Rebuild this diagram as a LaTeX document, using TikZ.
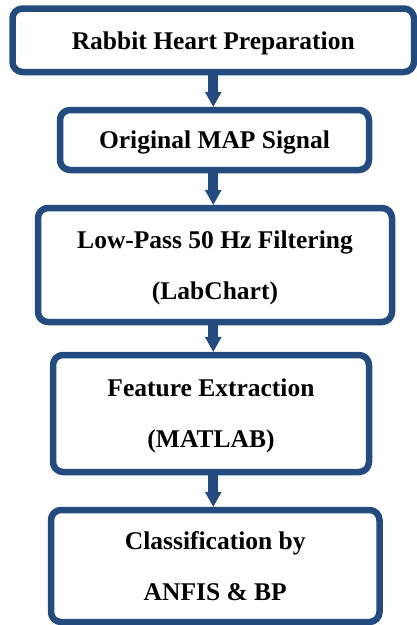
\documentclass[tikz,border=0pt]{standalone}
\usepackage{fontspec}
\setmainfont{LiberationSerif}[Extension=.ttf, UprightFont=*-Regular, BoldFont=*-Bold]
\usetikzlibrary{arrows.meta}
\definecolor{maincolor1}{RGB}{35,75,128}

\begin{document}
\begin{tikzpicture}[x=1pt, y=-1pt, line join=round,
    caja/.style={draw=maincolor1, line width=6.5pt, rounded corners=10pt, fill=white,
      align=center, inner sep=0pt, text depth=0pt, font=\fontsize{25.5}{51}\selectfont\bfseries},
    flecha/.style={draw=maincolor1, fill=maincolor1, line width=10pt, line cap=butt,
      -{Triangle[width=17pt, length=15pt, line width=0pt]}}]

	% Ventana de dibujo
	\useasboundingbox (0,0) rectangle (416,625);

	% Etapas del procesado (cajas redondeadas)
	\node[caja, minimum width=401.5pt, minimum height=63.5pt] (prep) at (213.25,40.25) {Rabbit Heart Preparation};
	\node[caja, minimum width=309pt, minimum height=60pt] (sig) at (214.5,140) {Original MAP Signal};
	\node[caja, minimum width=354pt, minimum height=114pt] (filt) at (215,265) {Low-Pass 50 Hz Filtering\\(LabChart)};
	\node[caja, minimum width=316pt, minimum height=117pt] (feat) at (211,413.5) {Feature Extraction\\(MATLAB)};
	\node[caja, minimum width=328.5pt, minimum height=112pt] (clas) at (215.25,566) {Classification by\\ANFIS \& BP};

	% Flechas entre etapas
	\draw[flecha] (prep.south) -- (prep.south |- sig.north);
	\draw[flecha] (sig.south -| prep.south) -- (prep.south |- filt.north);
	\draw[flecha] (filt.south -| prep.south) -- (prep.south |- feat.north);
	\draw[flecha] (feat.south -| prep.south) -- (prep.south |- clas.north);

\end{tikzpicture}
\end{document}
